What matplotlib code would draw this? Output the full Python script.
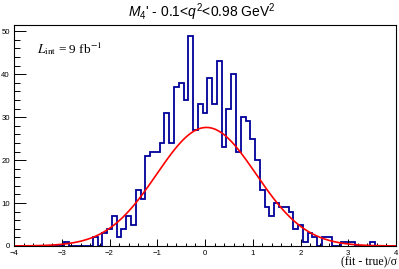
import numpy as np
import matplotlib
matplotlib.use('Agg')
import matplotlib.pyplot as plt
from matplotlib.ticker import MultipleLocator

# pull distribution, 0.1 wide bins centred on -4.0 ... 4.0
bin_lo = -4.05
bin_width = 0.1
counts = [
    0, 0, 0, 0, 0, 0, 0, 0, 0, 0, 0,          # -4.0 .. -3.0
    1, 0, 0, 0, 0, 0,                         # -2.9 .. -2.4
    2, 0, 3, 4, 7, 2, 4, 7, 5, 13, 11,        # -2.3 .. -1.3
    21, 22, 22, 24, 31, 24, 37, 38, 34, 49,   # -1.2 .. -0.3
    27, 33, 31, 39, 33, 43, 23, 32, 40, 22,   # -0.2 .. 0.7
    30, 29, 25, 20, 13, 9, 7, 10, 9, 9,       # 0.8 .. 1.7
    8, 4, 5, 1, 3, 2, 0, 2, 2, 0,             # 1.8 .. 2.7
    0, 1, 1, 1, 0, 0, 0, 1, 0, 0, 0, 0, 0,    # 2.8 .. 4.0
]
# gaussian fit (amplitude, mean, sigma)
fit_amp = 27.6
fit_mean = 0.03
fit_sigma = 1.04

title = r"$M_{4}$' - 0.1<$q^{2}$<0.98 GeV$^{2}$"
lumi = r"$L_{\mathrm{int}}$ = 9 fb$^{\mathrm{-1}}$"
xlabel = "(fit - true)/σ"

plt.rcParams['mathtext.fontset'] = 'custom'
plt.rcParams['mathtext.rm'] = 'Liberation Sans'
plt.rcParams['mathtext.it'] = 'Liberation Sans:italic'
plt.rcParams['font.family'] = 'Liberation Sans'

fig = plt.figure(figsize=(3.99, 2.69), dpi=100)
ax = fig.add_axes([14/399, 23/269, 382/399, 221/269])

edges = bin_lo + bin_width * np.arange(len(counts) + 1)
ax.stairs(counts, edges, color='#000099', lw=1.3)

xs = np.linspace(-4, 4, 400)
ax.plot(xs, fit_amp * np.exp(-0.5 * ((xs - fit_mean) / fit_sigma) ** 2), color='#ff0000', lw=1.2)

ax.set_xlim(-4, 4)
ax.set_ylim(0, 51.45)
ax.xaxis.set_major_locator(MultipleLocator(1))
ax.xaxis.set_minor_locator(MultipleLocator(0.2))
ax.yaxis.set_major_locator(MultipleLocator(10))
ax.yaxis.set_minor_locator(MultipleLocator(2))
ax.tick_params(which='both', direction='in', top=False, right=False, width=0.7, labelsize=5.6)
ax.tick_params(axis='x', which='major', length=4.7, pad=3.2)
ax.tick_params(axis='x', which='minor', length=2.4)
ax.tick_params(axis='y', which='major', length=8.3, pad=3)
ax.tick_params(axis='y', which='minor', length=4.1)
for s in ax.spines.values():
    s.set_linewidth(0.8)

fig.text(0.507, 0.955, title, ha='center', va='center', fontsize=10,
         family='Liberation Sans', math_fontfamily='custom')
ax.text(0.06, 0.93, lumi, transform=ax.transAxes, ha='left', va='top', fontsize=9.5,
        family='Liberation Serif', math_fontfamily='stix')
fig.text(0.995, 0.002, xlabel, ha='right', va='bottom', fontsize=8.5, family='Liberation Serif')

fig.savefig('out.png', dpi=100)
